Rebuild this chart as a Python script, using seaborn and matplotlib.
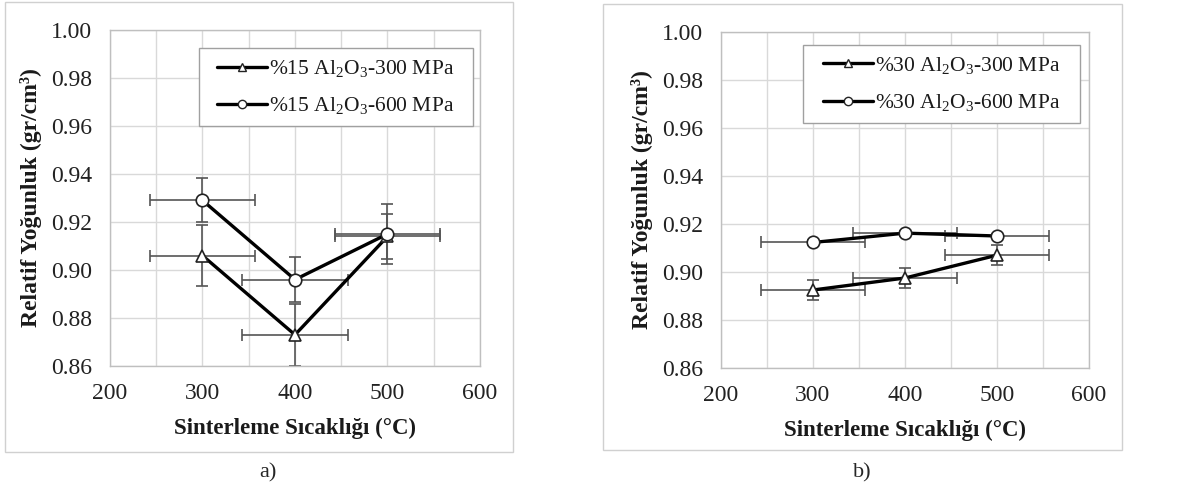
import numpy as np
import pandas as pd
import seaborn as sns
import matplotlib.pyplot as plt
from matplotlib.lines import Line2D
from matplotlib.patches import Rectangle

sicaklik = [300, 400, 500]

# panel a) %15 Al2O3
a_300 = [0.906, 0.873, 0.914]
a_300_yerr = [0.0127, 0.0128, 0.0095]
a_600 = [0.929, 0.896, 0.915]
a_600_yerr = [0.0092, 0.0093, 0.0125]

# panel b) %30 Al2O3
b_300 = [0.8925, 0.8975, 0.907]
b_300_yerr = [0.0043, 0.0042, 0.0042]
b_600 = [0.9123, 0.9162, 0.915]
b_600_yerr = [0.001, 0.001, 0.001]

xerr = [57, 57, 57]

sns.set_style("white")
plt.rcParams['font.family'] = ['Liberation Serif', 'DejaVu Serif']
plt.rcParams['mathtext.fontset'] = 'custom'
plt.rcParams['mathtext.rm'] = 'Liberation Serif'
plt.rcParams['mathtext.it'] = 'Liberation Serif:italic'
plt.rcParams['mathtext.bf'] = 'Liberation Serif:bold'

fig = plt.figure(figsize=(11.94, 4.93), dpi=100)

# panel frames
fig.add_artist(Rectangle((5/1194, 1-452/493), 508/1194, 450/493, transform=fig.transFigure,
                         fill=False, ec='#d0d0d0', lw=1))
fig.add_artist(Rectangle((603/1194, 1-450/493), 519/1194, 446/493, transform=fig.transFigure,
                         fill=False, ec='#d0d0d0', lw=1))

ax1 = fig.add_axes([110/1194, 1-366/493, 370/1194, 336/493])
ax2 = fig.add_axes([721/1194, 1-368/493, 368/1194, 336/493])

# legend box (axes fraction): x0, y0, x1, y1
kutular = [(0.2405, 0.714, 0.981, 0.946), (0.2228, 0.729, 0.9755, 0.961)]

panels = [
    (ax1, '%15', a_300, a_300_yerr, a_600, a_600_yerr),
    (ax2, '%30', b_300, b_300_yerr, b_600, b_600_yerr),
]

for (ax, oran, y3, e3, y6, e6), kutu in zip(panels, kutular):
    df = pd.DataFrame({
        'T': sicaklik * 2,
        'rho': y3 + y6,
        'seri': ['300'] * 3 + ['600'] * 3,
    })
    ax.errorbar(sicaklik, y3, yerr=e3, xerr=xerr, fmt='none', ecolor='#555555',
                elinewidth=1.2, capsize=4.5, capthick=1.2, zorder=2)
    ax.errorbar(sicaklik, y6, yerr=e6, xerr=xerr, fmt='none', ecolor='#555555',
                elinewidth=1.2, capsize=4.5, capthick=1.2, zorder=2)
    sns.lineplot(data=df, x='T', y='rho', style='seri', markers={'300': '^', '600': 'o'},
                 dashes=False, color='black', linewidth=2.4, markersize=9,
                 markerfacecolor='white', markeredgecolor='#222222', markeredgewidth=1.2,
                 legend=False, ax=ax, zorder=3)

    ax.set_xlim(200, 600)
    ax.set_ylim(0.86, 1.00)
    ax.set_xticks([200, 300, 400, 500, 600])
    ax.set_xticks([250, 350, 450, 550], minor=True)
    ax.set_yticks(np.arange(0.86, 1.001, 0.02))
    ax.set_yticklabels([f'{v:.2f}' for v in np.arange(0.86, 1.001, 0.02)])
    ax.grid(True, which='both', color='#d9d9d9', linewidth=1)
    ax.set_axisbelow(True)
    for s in ax.spines.values():
        s.set_color('#bfbfbf')
        s.set_linewidth(1)
    ax.tick_params(which='both', length=0, labelsize=17, colors='#222222')
    ax.tick_params(axis='x', pad=12)
    ax.tick_params(axis='y', pad=13)
    ax.set_xlabel('Sinterleme Sıcaklığı (°C)', fontsize=16.5, fontweight='bold',
                  color='#1a1a1a', labelpad=10)
    ax.set_ylabel('Relatif Yoğunluk (gr/cm³)', fontsize=17, fontweight='bold',
                  color='#1a1a1a', labelpad=6)

    x0, y0, x1, y1 = kutu
    ax.add_patch(Rectangle((x0, y0), x1 - x0, y1 - y0, transform=ax.transAxes,
                           facecolor='white', edgecolor='#a0a0a0', lw=1, zorder=5))
    handles = [
        Line2D([], [], color='black', lw=2.4, marker='^', markersize=6,
               markerfacecolor='white', markeredgecolor='#222222'),
        Line2D([], [], color='black', lw=2.4, marker='o', markersize=6,
               markerfacecolor='white', markeredgecolor='#222222'),
    ]
    labels = [oran + ' Al$_2$O$_3$-300 MPa', oran + ' Al$_2$O$_3$-600 MPa']
    leg = ax.legend(handles, labels, loc='center',
                    bbox_to_anchor=((x0 + x1) / 2, (y0 + y1) / 2),
                    fontsize=15.5, frameon=False, handlelength=2.3, handletextpad=0.1,
                    labelspacing=0.75, borderpad=0, borderaxespad=0)
    leg.set_zorder(6)
    for t in leg.get_texts():
        t.set_color('#1a1a1a')

fig.text(268/1194, 1-473/493, 'a)', fontsize=16, ha='center', va='center')
fig.text(862/1194, 1-473/493, 'b)', fontsize=16, ha='center', va='center')

fig.savefig('out.png', dpi=100)
